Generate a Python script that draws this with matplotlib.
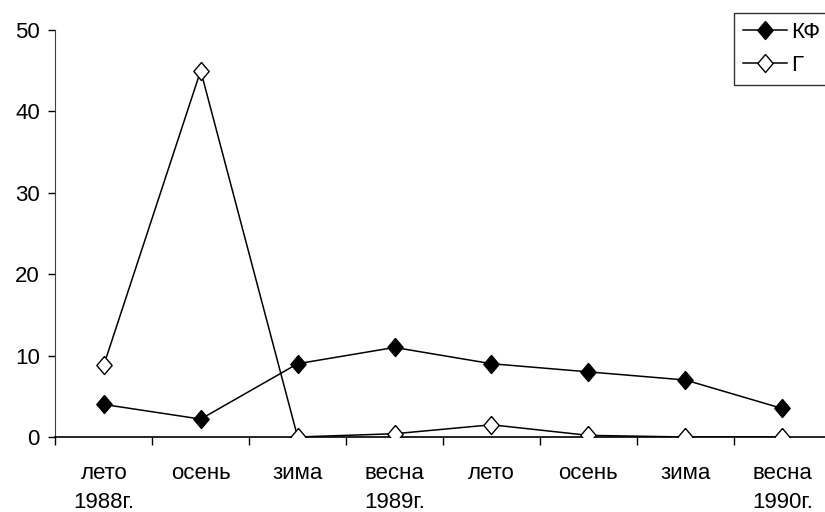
import numpy as np
import matplotlib
matplotlib.use('Agg')
import matplotlib.pyplot as plt

plt.rcParams['font.family'] = ['Liberation Sans', 'DejaVu Sans']

seasons = ['лето\n1988г.', 'осень', 'зима', 'весна\n1989г.',
           'лето', 'осень', 'зима', 'весна\n1990г.']
kf = [4.0, 2.2, 9.0, 11.0, 9.0, 8.0, 7.0, 3.5]
g = [8.8, 45.0, 0.0, 0.4, 1.5, 0.2, 0.0, 0.0]

# slightly taller than wide, like the original
diamond = [(0, 1), (0.85, 0), (0, -1), (-0.85, 0), (0, 1)]

fig = plt.figure(figsize=(8.25, 5.12), dpi=100)
ax = fig.add_axes([0.067, 0.1465, 0.94, 0.795])

x = np.arange(len(seasons))
ax.plot(x, kf, '-', color='black', lw=1.1, marker=diamond, ms=13,
        mfc='black', mec='black', mew=1, label='КФ', zorder=3)
ax.plot(x, g, '-', color='black', lw=1.1, marker=diamond, ms=13,
        mfc='white', mec='black', mew=1, label='Г', zorder=3)

ax.set_xlim(-0.5, len(seasons) - 0.5)
ax.set_ylim(0, 50)
ax.set_yticks([0, 10, 20, 30, 40, 50])
ax.set_xticks(x)
ax.set_xticklabels(seasons, linespacing=1.45)
ax.set_xticks(np.arange(len(seasons) + 1) - 0.5, minor=True)
ax.tick_params(axis='x', which='major', length=0, pad=19, labelsize=16)
ax.tick_params(axis='x', which='minor', length=6, direction='out', width=1)
ax.tick_params(axis='y', length=5, width=1, labelsize=16, pad=6)

for side in ['top', 'right']:
    ax.spines[side].set_visible(False)
ax.spines['left'].set_color('#404040')
ax.spines['bottom'].set_linewidth(1.2)

leg = fig.legend(loc='upper right', bbox_to_anchor=(1.018, 0.996), fontsize=16,
                 frameon=True, fancybox=False, edgecolor='black',
                 handlelength=2.0, handletextpad=0.15, borderpad=0.4,
                 labelspacing=0.55)
leg.get_frame().set_linewidth(1.0)

fig.savefig('out.png', dpi=100)
